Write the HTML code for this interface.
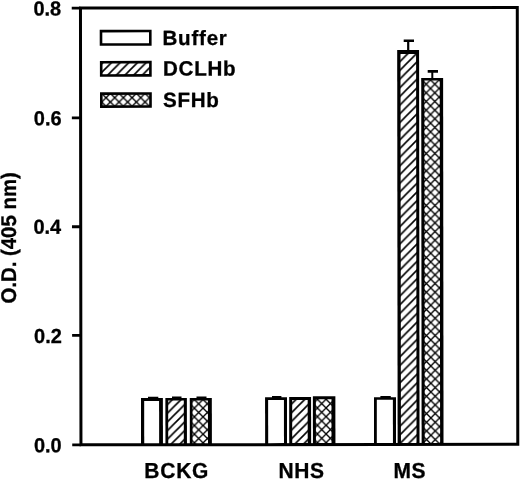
<!DOCTYPE html>
<html><head><meta charset="utf-8">
<style>
html,body{margin:0;padding:0;background:#fff;width:520px;height:480px;overflow:hidden}
svg{display:block;filter:grayscale(1)}

text{text-rendering:geometricPrecision;font-family:"Liberation Sans",sans-serif;font-weight:bold;fill:#000;stroke:#000;stroke-width:0.3px}
</style></head><body>
<div id="w"><svg width="520" height="480" viewBox="0 0 520 480">
<defs>
<pattern id="dL" patternUnits="userSpaceOnUse" x="111.00" y="63.09" width="8.67" height="8.67"><rect width="8.67" height="8.67" fill="#fff"/><path d="M-2,2 L2,-2 M0,8.67 L8.67,0 M6.67,10.67 L10.67,6.67" stroke="#000" stroke-width="1.60"/></pattern>
<pattern id="dB" patternUnits="userSpaceOnUse" x="171.98" y="408.28" width="8.67" height="8.67"><rect width="8.67" height="8.67" fill="#fff"/><path d="M-2,2 L2,-2 M0,8.67 L8.67,0 M6.67,10.67 L10.67,6.67" stroke="#000" stroke-width="1.60"/></pattern>
<pattern id="dN" patternUnits="userSpaceOnUse" x="295.98" y="408.03" width="8.67" height="8.67"><rect width="8.67" height="8.67" fill="#fff"/><path d="M-2,2 L2,-2 M0,8.67 L8.67,0 M6.67,10.67 L10.67,6.67" stroke="#000" stroke-width="1.60"/></pattern>
<pattern id="dM" patternUnits="userSpaceOnUse" x="404.45" y="66.07" width="8.67" height="8.67"><rect width="8.67" height="8.67" fill="#fff"/><path d="M-2,2 L2,-2 M0,8.67 L8.67,0 M6.67,10.67 L10.67,6.67" stroke="#000" stroke-width="1.60"/></pattern>
<pattern id="cL" patternUnits="userSpaceOnUse" x="106.20" y="97.49" width="8.67" height="8.67"><rect width="8.67" height="8.67" fill="#fff"/><path d="M-1,-1 L9.67,9.67 M-1,9.67 L9.67,-1" stroke="#000" stroke-width="1.35"/></pattern>
<pattern id="cB" patternUnits="userSpaceOnUse" x="202.85" y="408.06" width="8.67" height="8.67"><rect width="8.67" height="8.67" fill="#fff"/><path d="M-1,-1 L9.67,9.67 M-1,9.67 L9.67,-1" stroke="#000" stroke-width="1.35"/></pattern>
<pattern id="cN" patternUnits="userSpaceOnUse" x="325.89" y="407.99" width="8.67" height="8.67"><rect width="8.67" height="8.67" fill="#fff"/><path d="M-1,-1 L9.67,9.67 M-1,9.67 L9.67,-1" stroke="#000" stroke-width="1.35"/></pattern>
<pattern id="cM" patternUnits="userSpaceOnUse" x="430.69" y="105.98" width="8.67" height="8.67"><rect width="8.67" height="8.67" fill="#fff"/><path d="M-1,-1 L9.67,9.67 M-1,9.67 L9.67,-1" stroke="#000" stroke-width="1.35"/></pattern>
</defs>
<g transform="rotate(-0.065 300 240)">
<rect x="80.73" y="7.85" width="436.82" height="436.75" fill="none" stroke="#000" stroke-width="3.0"/>
<path d="M72.0,7.85 H80.73 M72.0,117.65 H80.73 M72.0,226.50 H80.73 M72.0,335.10 H80.73 M72.0,444.60 H80.73" stroke="#000" stroke-width="2.8"/>
<g font-size="20" text-anchor="end">
<text transform="translate(61.46,15.23) scale(1,1.015)">0.8</text>
<text transform="translate(61.74,124.98) scale(1,1.015)">0.6</text>
<text transform="translate(61.22,233.43) scale(1,1.015)">0.4</text>
<text transform="translate(61.79,342.68) scale(1,1.015)">0.2</text>
<text transform="translate(61.47,451.98) scale(1,1.015)">0.0</text>
</g>
<text font-size="20.4" text-anchor="middle" transform="translate(16.00,237.57) rotate(-90) scale(1,1.04)">O.D. (405 nm)</text>
<g font-size="21" text-anchor="middle">
<text transform="translate(176.44,477.86) scale(1,1.03)" letter-spacing="0.8">BCKG</text>
<text transform="translate(301.24,478.00) scale(1,1.03)" letter-spacing="0.5">NHS</text>
<text transform="translate(409.44,478.12) scale(1,1.03)" letter-spacing="0.5">MS</text>
</g>
<g stroke="#000" stroke-width="2.6">
<rect x="101.24" y="30.87" width="49.30" height="13.40" fill="#fff"/>
<rect x="101.40" y="61.97" width="49.20" height="13.25" fill="url(#dL)"/>
<rect x="101.47" y="93.37" width="49.20" height="13.00" fill="url(#cL)"/>
</g>
<g font-size="20.6" letter-spacing="0.75">
<text transform="translate(162.72,44.94) scale(1,1.0)">Buffer</text>
<text transform="translate(163.09,75.34) scale(1,1.0)">DCLHb</text>
<text transform="translate(163.05,106.94) scale(1,1.0)">SFHb</text>
</g>
<rect x="140.80" y="397.93" width="21.90" height="46.67"/>
<rect x="144.00" y="400.73" width="14.90" height="42.37" fill="#fff"/>
<rect x="165.20" y="397.86" width="21.50" height="46.74"/>
<rect x="168.00" y="400.46" width="15.60" height="42.64" fill="url(#dB)"/>
<rect x="189.60" y="397.89" width="22.05" height="46.71"/>
<rect x="192.30" y="400.49" width="15.45" height="42.61" fill="url(#cB)"/>
<rect x="264.90" y="397.27" width="21.90" height="47.33"/>
<rect x="267.95" y="400.07" width="15.80" height="43.03" fill="#fff"/>
<rect x="289.00" y="397.00" width="21.90" height="47.60"/>
<rect x="292.00" y="400.00" width="15.50" height="43.10" fill="url(#dN)"/>
<rect x="312.70" y="396.33" width="22.50" height="48.27"/>
<rect x="315.70" y="399.23" width="15.60" height="43.87" fill="url(#cN)"/>
<rect x="373.80" y="397.30" width="22.00" height="47.30"/>
<rect x="376.60" y="399.90" width="16.10" height="43.20" fill="#fff"/>
<rect x="397.40" y="50.02" width="21.90" height="394.58"/>
<rect x="400.70" y="54.12" width="15.60" height="388.98" fill="url(#dM)"/>
<rect x="421.40" y="78.15" width="21.90" height="366.45"/>
<rect x="424.50" y="80.65" width="15.40" height="362.45" fill="url(#cM)"/>
<g fill="#000">
<rect x="147.82" y="396.63" width="10.30" height="1.80"/>
<rect x="171.82" y="396.35" width="9.50" height="2.00"/>
<rect x="196.32" y="396.38" width="10.00" height="2.00"/>
<rect x="271.82" y="396.07" width="9.40" height="1.90"/>
<rect x="380.22" y="396.19" width="10.40" height="1.90"/>
<rect x="403.93" y="39.62" width="10.30" height="2.60"/>
<rect x="427.89" y="70.24" width="10.30" height="2.65"/>
<rect x="407.33" y="41.12" width="2.20" height="9.50"/>
<rect x="431.49" y="71.15" width="2.00" height="7.50"/>
</g>
</g>
</svg></div>
</body></html>
